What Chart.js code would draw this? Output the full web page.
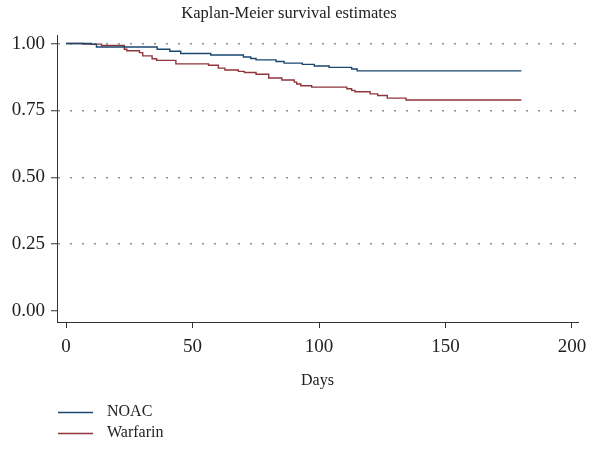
<!DOCTYPE html>
<html>
<head>
<meta charset="utf-8">
<script src="https://cdn.jsdelivr.net/npm/chart.js@4.4.1/dist/chart.umd.min.js"></script>
<style>
  html, body { margin: 0; padding: 0; background: #fff; }
  #wrap { width: 590px; height: 453px; }
</style>
</head>
<body>
<div id="wrap"><canvas id="c" width="590" height="453"></canvas></div>
<script>
// ---- data ----
const chartTitle = 'Kaplan-Meier survival estimates';
const xTitle = 'Days';
const seriesNames = ['NOAC', 'Warfarin'];
const xTicks = [0, 50, 100, 150, 200];
const yTicks = [0, 0.25, 0.5, 0.75, 1.0];

const noacDays = [0, 10, 12, 36, 41, 45.3, 57.2, 70.1, 73, 75.1, 83, 86.2, 93.4, 98.1, 104, 112.9, 115.1, 180];
const noacSurv = [1.0, 0.997, 0.987, 0.979, 0.971, 0.963, 0.957, 0.950, 0.944, 0.939, 0.933, 0.927, 0.922, 0.916, 0.911, 0.905, 0.898, 0.898];

const warfDays = [0, 6.9, 14, 23, 24, 29, 30.3, 34, 35.8, 43.4, 56.3, 60.2, 62.8, 68.1, 70.5, 75.1, 80.1, 85.3, 90.2, 91.2, 92.8, 97.1, 111, 112.9, 114.2, 120.2, 123.2, 127, 134.4, 180];
const warfSurv = [1.0, 0.998, 0.993, 0.979, 0.973, 0.966, 0.954, 0.943, 0.937, 0.924, 0.919, 0.908, 0.901, 0.896, 0.892, 0.885, 0.871, 0.864, 0.856, 0.849, 0.842, 0.837, 0.831, 0.825, 0.820, 0.812, 0.806, 0.796, 0.789, 0.789];

const colors = ['#1a476f', '#90353b'];
const FONT = '"Liberation Serif", "DejaVu Serif", serif';
const TXT = '#222';
const AX = '#333';

function pts(xs, ys) { return xs.map((x, i) => ({ x: x, y: ys[i] })); }

const legendPlugin = {
  id: 'stackLegend',
  afterDraw(chart) {
    const ctx = chart.ctx;
    ctx.save();
    ctx.font = '16px ' + FONT;
    ctx.textBaseline = 'middle';
    ctx.textAlign = 'left';
    chart.data.datasets.forEach((ds, i) => {
      const y = 412 + i * 21;
      ctx.strokeStyle = ds.borderColor;
      ctx.lineWidth = 1.3;
      ctx.beginPath();
      ctx.moveTo(58, y + 0.5);
      ctx.lineTo(93, y + 0.5);
      ctx.stroke();
      ctx.fillStyle = TXT;
      ctx.fillText(ds.label, 107, y);
    });
    ctx.restore();
  }
};

new Chart(document.getElementById('c'), {
  type: 'line',
  data: {
    datasets: [
      { label: seriesNames[0], data: pts(noacDays, noacSurv), borderColor: colors[0], backgroundColor: colors[0], borderWidth: 1.4, stepped: 'before', pointRadius: 0, fill: false },
      { label: seriesNames[1], data: pts(warfDays, warfSurv), borderColor: colors[1], backgroundColor: colors[1], borderWidth: 1.4, stepped: 'before', pointRadius: 0, fill: false }
    ]
  },
  options: {
    responsive: false,
    animation: false,
    layout: { padding: { left: 0, right: 12, top: 0, bottom: 56 } },
    plugins: {
      legend: { display: false },
      tooltip: { enabled: false },
      title: {
        display: true,
        text: chartTitle,
        color: TXT,
        font: { family: FONT, size: 16.5, weight: 'normal' },
        padding: { top: 3.5, bottom: 11.7 }
      }
    },
    scales: {
      x: {
        type: 'linear',
        min: -3.6,
        max: 202.4,
        afterBuildTicks: s => { s.ticks = xTicks.map(v => ({ value: v })); },
        afterFit: s => { s.height = 75; s.paddingLeft = 0; s.paddingRight = 0; },
        ticks: {
          color: TXT,
          font: { family: FONT, size: 19 },
          padding: 8,
          maxRotation: 0,
          autoSkip: false,
          callback: v => String(v)
        },
        grid: {
          drawOnChartArea: false,
          drawTicks: true,
          tickLength: 6,
          tickColor: AX,
          tickWidth: 1
        },
        border: { display: true, color: AX, width: 1 },
        title: {
          display: true,
          text: xTitle,
          color: TXT,
          font: { family: FONT, size: 16 },
          padding: { top: 0, bottom: 7 }
        }
      },
      y: {
        type: 'linear',
        min: -0.041,
        max: 1.032,
        afterBuildTicks: s => { s.ticks = yTicks.map(v => ({ value: v })); },
        afterFit: s => { s.width = 57; s.paddingTop = 0; s.paddingBottom = 0; },
        ticks: {
          color: TXT,
          font: { family: FONT, size: 19 },
          padding: 6,
          autoSkip: false,
          callback: v => Number(v).toFixed(2)
        },
        grid: {
          drawOnChartArea: true,
          drawTicks: true,
          tickLength: 6,
          color: ctx => (ctx.tick && ctx.tick.value > 0) ? '#8c8c8c' : 'rgba(0,0,0,0)',
          lineWidth: 1.5,
          tickColor: AX,
          tickWidth: 1,
          tickBorderDash: []
        },
        border: { display: true, color: AX, width: 1, dash: [2, 10], dashOffset: 0 }
      }
    }
  },
  plugins: [legendPlugin]
});
</script>
</body>
</html>
